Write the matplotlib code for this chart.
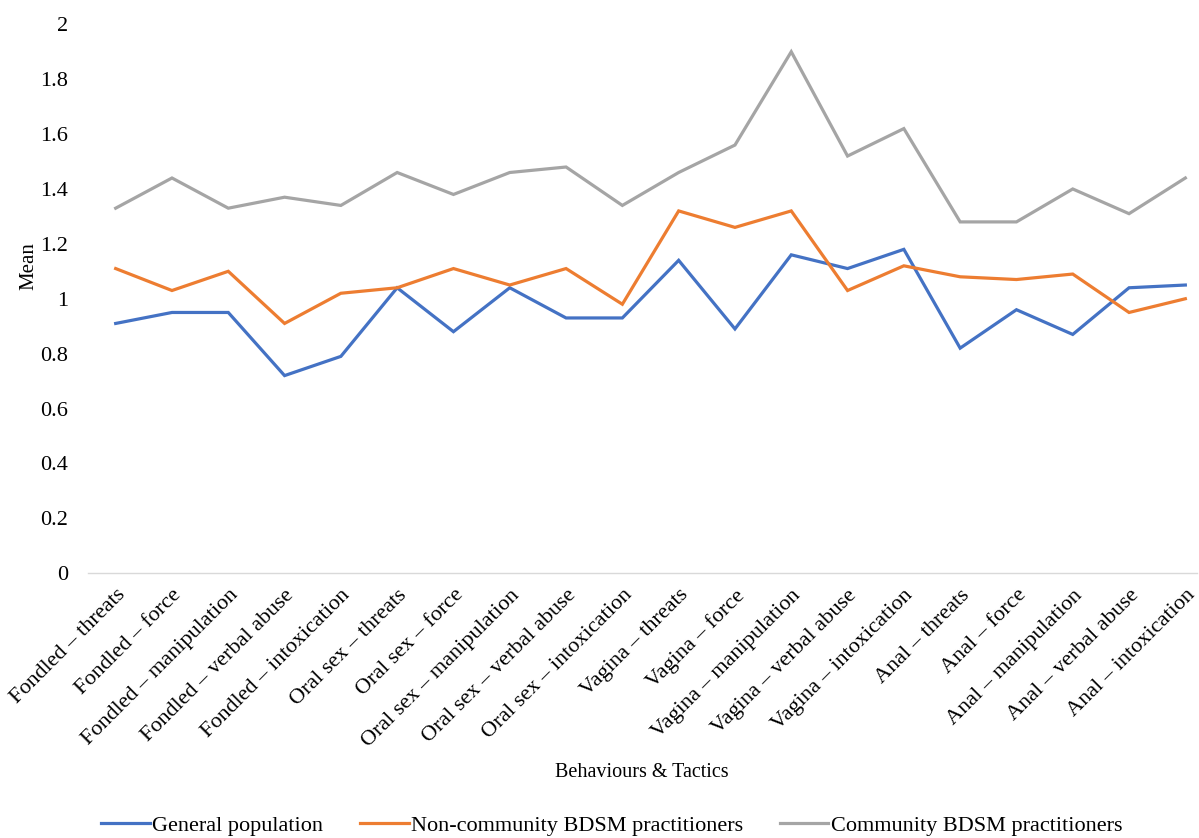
import matplotlib
matplotlib.use("Agg")
import matplotlib.pyplot as plt
import numpy as np

plt.rcParams['font.family'] = ['Liberation Serif', 'DejaVu Serif']

# Categories: behaviour - tactic
categories = [
    'Fondled – threats', 'Fondled – force', 'Fondled – manipulation',
    'Fondled – verbal abuse', 'Fondled – intoxication',
    'Oral sex – threats', 'Oral sex – force', 'Oral sex – manipulation',
    'Oral sex – verbal abuse', 'Oral sex – intoxication',
    'Vagina – threats', 'Vagina – force', 'Vagina – manipulation',
    'Vagina – verbal abuse', 'Vagina – intoxication',
    'Anal – threats', 'Anal – force', 'Anal – manipulation',
    'Anal – verbal abuse', 'Anal – intoxication',
]

general = [0.91, 0.95, 0.95, 0.72, 0.79, 1.04, 0.88, 1.04, 0.93, 0.93,
           1.14, 0.89, 1.16, 1.11, 1.18, 0.82, 0.96, 0.87, 1.04, 1.05]
non_community = [1.11, 1.03, 1.10, 0.91, 1.02, 1.04, 1.11, 1.05, 1.11, 0.98,
                 1.32, 1.26, 1.32, 1.03, 1.12, 1.08, 1.07, 1.09, 0.95, 1.00]
community = [1.33, 1.44, 1.33, 1.37, 1.34, 1.46, 1.38, 1.46, 1.48, 1.34,
             1.46, 1.56, 1.90, 1.52, 1.62, 1.28, 1.28, 1.40, 1.31, 1.44]

series_names = ['General population', 'Non-community BDSM practitioners',
                'Community BDSM practitioners']
colors = ['#4472C4', '#ED7D31', '#A5A5A5']

fig = plt.figure(figsize=(11.99, 8.38), dpi=100)
ax = fig.add_axes([0.073, 0.316, 0.925, 0.655])

x = np.arange(len(categories))
for vals, name, c in zip([general, non_community, community], series_names, colors):
    ax.plot(x, vals, color=c, lw=2.3, label=name, solid_joinstyle='miter')

ax.set_xlim(-0.5, 19.2)
ax.set_ylim(0, 2)
ax.set_yticks(np.arange(0, 2.01, 0.2))
ax.set_yticklabels(['0', '0.2', '0.4', '0.6', '0.8', '1', '1.2', '1.4', '1.6', '1.8', '2'])
ax.set_xticks(x)
ax.set_xticklabels(categories, rotation=45, ha='right', rotation_mode='anchor')
ax.tick_params(axis='both', length=0, labelsize=16)
ax.tick_params(axis='x', pad=9)
ax.tick_params(axis='y', pad=14)

for s in ['top', 'right', 'left']:
    ax.spines[s].set_visible(False)
ax.spines['bottom'].set_color('#D9D9D9')
ax.spines['bottom'].set_linewidth(1.0)

ax.set_ylabel('Mean', fontsize=15)
ax.yaxis.set_label_coords(-0.044, 0.56)
fig.text(0.535, 0.078, 'Behaviours & Tactics', ha='center', va='center', fontsize=14.5)

fig.legend(loc='center', bbox_to_anchor=(0.51, 0.015), ncol=3, frameon=False,
           fontsize=16, handlelength=2.2, handletextpad=0.1, columnspacing=1.65)

fig.savefig('out.png', dpi=100)
